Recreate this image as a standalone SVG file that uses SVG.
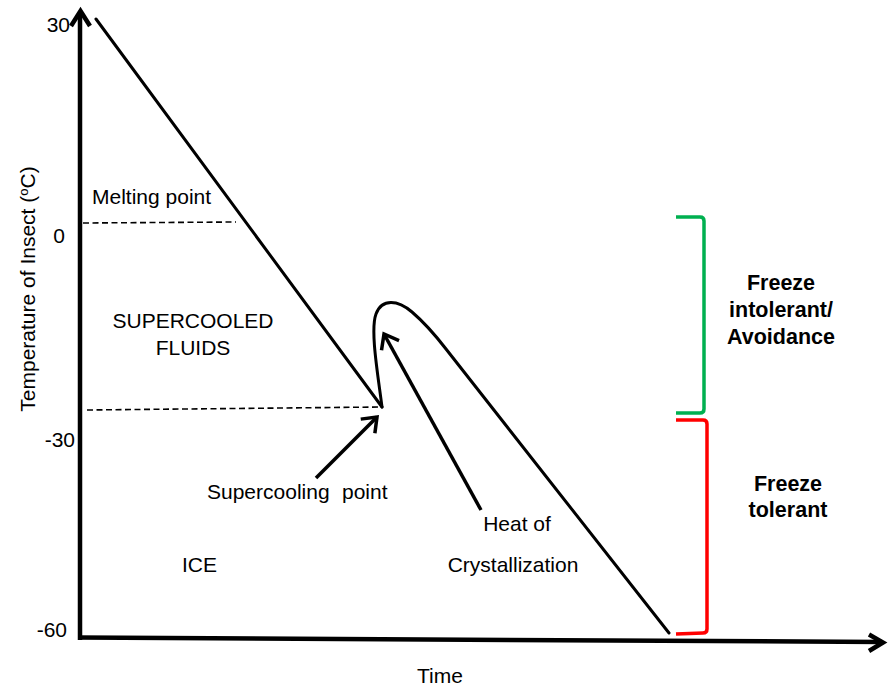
<svg xmlns="http://www.w3.org/2000/svg" width="888" height="687" viewBox="0 0 888 687">
  <style>
    .t { font-family: "Liberation Sans", Arial, sans-serif; font-size: 21px; fill: #000; }
    .b { font-family: "Liberation Sans", Arial, sans-serif; font-size: 21.5px; font-weight: bold; fill: #000; text-anchor: middle; }
    .ax { stroke: #000; stroke-width: 4.5; fill: none; }
    .ln { stroke: #000; stroke-width: 3; fill: none; stroke-linecap: round; }
    .dash { stroke: #000; stroke-width: 1.6; fill: none; stroke-dasharray: 6 3.5; }
    .arr { stroke: #000; stroke-width: 3.5; fill: none; marker-end: url(#head); }
  </style>
  <defs>
    <marker id="head" markerUnits="userSpaceOnUse" markerWidth="30" markerHeight="30" viewBox="-20 -15 25 30" refX="0" refY="0" orient="auto">
      <path d="M-13,-10 L0,0 L-13,10" stroke="#000" stroke-width="3.5" fill="none" stroke-linejoin="miter"/>
    </marker>
  </defs>
  <rect width="888" height="687" fill="#fff"/>

  <g id="axes">
    <line class="ax" x1="80" y1="640" x2="80" y2="13"/>
    <polyline class="ax" points="71,26 80.5,11 90,26" stroke-width="4"/>
    <line class="ax" x1="78" y1="637.5" x2="882" y2="642"/>
    <polyline class="ax" points="869,634.5 883,642.5 869,651" stroke-width="4"/>
    <text class="t" x="70" y="32" text-anchor="end">30</text>
    <text class="t" x="65" y="243" text-anchor="end">0</text>
    <text class="t" x="75" y="447" text-anchor="end">-30</text>
    <text class="t" x="67" y="637" text-anchor="end">-60</text>
    <text class="t" font-size="20" transform="translate(35,289) rotate(-90)" text-anchor="middle">Temperature of Insect (<tspan font-size="13" dy="-7">o</tspan><tspan dy="7">C)</tspan></text>
    <text class="t" x="417" y="683" font-size="20.3">Time</text>
  </g>

  <g id="curve">
    <line class="ln" x1="96" y1="19" x2="382" y2="407"/>
    <path class="ln" d="M382,407 C378,375 370,330 376,314 C382,298 398,300 412,312 C426,324 436,336 446,349 L669,633"/>
  </g>

  <g id="guides">
    <line class="dash" x1="83" y1="223" x2="236" y2="222"/>
    <line class="dash" x1="87" y1="410" x2="381" y2="407"/>
  </g>

  <g id="connectors">
    <line class="arr" x1="316" y1="478" x2="377" y2="417"/>
    <line class="arr" x1="481" y1="510" x2="384" y2="334"/>
  </g>

  <g id="labels">
    <text id="melting" class="t" x="92" y="204">Melting point</text>
    <text id="supercooled" class="t" font-size="21.5" text-anchor="middle"><tspan x="193" y="328">SUPERCOOLED</tspan><tspan x="193" y="355">FLUIDS</tspan></text>
    <text id="scp" class="t" y="499"><tspan x="207">Supercooling</tspan><tspan x="342">point</tspan></text>
    <text id="heat" class="t" font-size="21.5" text-anchor="middle"><tspan x="517" y="531">Heat of</tspan><tspan x="513" y="572">Crystallization</tspan></text>
    <text id="ice" class="t" x="182" y="572" font-size="20">ICE</text>
  </g>

  <g id="bracket-intolerant">
    <path d="M676,217 L700,217 Q704,217 704,221 L704,409 Q704,413 700,413 L676,413" stroke="#00B050" stroke-width="3.5" fill="none"/>
    <text class="b"><tspan x="781" y="290">Freeze</tspan><tspan x="781" y="317">intolerant/</tspan><tspan x="781" y="344">Avoidance</tspan></text>
  </g>

  <g id="bracket-tolerant">
    <path d="M676,420 L703,420 Q707,420 707,424 L707,629 Q707,633 703,633 L676,634" stroke="#FF0000" stroke-width="3.5" fill="none"/>
    <text class="b"><tspan x="788" y="491">Freeze</tspan><tspan x="788" y="517">tolerant</tspan></text>
  </g>
</svg>
